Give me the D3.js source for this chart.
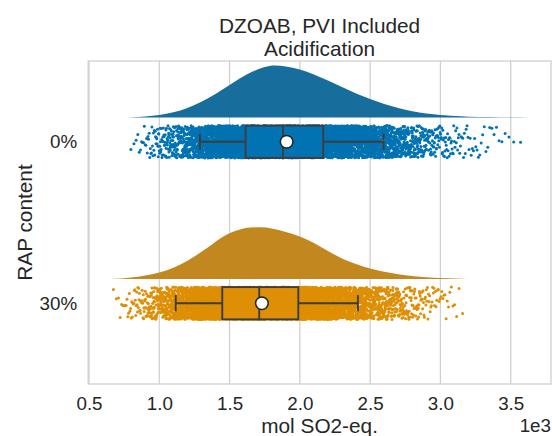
<!DOCTYPE html>
<html><head><meta charset="utf-8">
<script src="https://cdn.jsdelivr.net/npm/d3@7"></script>
<style>
body{margin:0;background:#fff}
svg{display:block;font-family:"Liberation Sans",Arial,Helvetica,sans-serif}
</style>
</head><body>
<svg id="chart" width="552" height="436"></svg>
<script>
// ---------------- data (values in mol SO2-eq.) ----------------
const categories   = ["0%", "30%"];
const titleLines   = ["DZOAB, PVI Included", "Acidification"];
const xLabel       = "mol SO2-eq.";
const yLabel       = "RAP content";
const xTicks       = [500, 1000, 1500, 2000, 2500, 3000, 3500];

const whiskerLow   = [1289, 1117];
const quartile1    = [1614, 1448];
const medians      = [1880, 1711];
const quartile3    = [2166, 1989];
const whiskerHigh  = [2596, 2413];
const means        = [1906, 1730];
const dataMin      = [768, 644];
const dataMax      = [3637, 3193];

// half-violin (KDE) profile, relative density
const densityX0 = [768, 850, 950, 1050, 1150, 1250, 1350, 1450, 1550, 1650, 1750, 1820, 1900, 2000, 2100, 2200, 2300, 2400, 2500, 2600, 2700, 2800, 2900, 3000, 3100, 3200, 3350, 3500, 3637];
const densityY0 = [0, 0.6, 1.8, 3.8, 7, 12.5, 19.5, 28, 37, 45, 50.5, 52, 51, 48, 43, 37, 30.5, 24, 18.5, 13.5, 9.5, 6.3, 4, 2.5, 1.5, 0.9, 0.45, 0.2, 0];
const densityX1 = [644, 750, 850, 950, 1050, 1150, 1250, 1350, 1450, 1550, 1650, 1720, 1800, 1900, 2000, 2100, 2200, 2300, 2400, 2500, 2600, 2700, 2800, 2900, 3000, 3100, 3193];
const densityY1 = [0, 0.8, 2.3, 4.7, 8.5, 14.5, 22.5, 32, 42, 48.5, 51.5, 51.7, 50.5, 47, 42.5, 36, 28, 20.5, 15, 10.5, 7.3, 4.8, 3, 1.8, 1, 0.5, 0];
const densityX = [densityX0, densityX1];
const densityY = [densityY0, densityY1];
const pointsPerGroup = 8000;

// ---------------- styles ----------------
const pointColors  = ["#0173b2", "#de8f05"];
const violinColors = ["#176d9c", "#c38720"];
const lineColor = "#3d3d3d";
const textColor = "#262626";
const gridColor = "#d0d0d0";

const m = {left: 88.2, right: 551, top: 61, bottom: 384};
const svg = d3.select("#chart");

const x = d3.scaleLinear()
  .domain([d3.min(dataMin) - 0.05 * (d3.max(dataMax) - d3.min(dataMin)),
           d3.max(dataMax) + 0.05 * (d3.max(dataMax) - d3.min(dataMin))])
  .range([m.left, m.right]);
const y = d3.scaleLinear().domain([-0.5, categories.length - 0.5]).range([m.top, m.bottom]);
const unit = y(1) - y(0);

// grid
svg.append("g").selectAll("line").data(xTicks).join("line")
  .attr("x1", d => x(d)).attr("x2", d => x(d))
  .attr("y1", m.top).attr("y2", m.bottom)
  .attr("stroke", gridColor).attr("stroke-width", 1.3);

// half violins
const dScale = d3.scaleLinear().domain([0, 52]).range([0, 0.322 * unit]);
categories.forEach((c, i) => {
  const base = y(i) - 0.15 * unit;
  const pts = densityX[i].map((v, k) => [v, densityY[i][k]]);
  const area = d3.area().x(d => x(d[0])).y0(base).y1(d => base - dScale(d[1])).curve(d3.curveMonotoneX);
  svg.append("path").attr("d", area(pts)).attr("fill", violinColors[i]);
});

// strip points placed at density quantiles, deterministic jitter
function quantileSample(xs, ds, n) {
  const f = d3.scaleLinear().domain(xs).range(ds);
  const M = 4000, lo = xs[0], hi = xs[xs.length - 1];
  const gx = d3.range(M + 1).map(k => lo + (hi - lo) * k / M);
  const cdf = [0];
  for (let k = 1; k <= M; k++) cdf.push(cdf[k - 1] + (f(gx[k]) + f(gx[k - 1])) / 2);
  const tot = cdf[M];
  const out = [];
  for (let j = 0; j < n; j++) {
    const q = (j + 0.5) / n * tot;
    let k = d3.bisectLeft(cdf, q);
    k = Math.max(1, Math.min(M, k));
    const t = (q - cdf[k - 1]) / (cdf[k] - cdf[k - 1] || 1);
    out.push(gx[k - 1] + t * (gx[k] - gx[k - 1]));
  }
  return out;
}
function jitter(j, i) {
  const s = Math.sin((j + 1) * 12.9898 + (i + 1) * 78.233) * 43758.5453;
  return s - Math.floor(s);
}
categories.forEach((c, i) => {
  const xs = quantileSample(densityX[i], densityY[i], pointsPerGroup);
  const g = svg.append("g").attr("fill", pointColors[i]);
  g.selectAll("circle").data(xs).join("circle")
    .attr("cx", d => x(d))
    .attr("cy", (d, j) => y(i) + (jitter(j, i) - 0.5) * 0.2 * unit)
    .attr("r", 1.5);
});

// boxes
categories.forEach((c, i) => {
  const cy = y(i), hw = 0.1 * unit, cap = 0.05 * unit;
  const g = svg.append("g").attr("stroke", lineColor).attr("stroke-width", 1.9);
  g.append("line").attr("x1", x(whiskerLow[i])).attr("x2", x(quartile1[i])).attr("y1", cy).attr("y2", cy);
  g.append("line").attr("x1", x(quartile3[i])).attr("x2", x(whiskerHigh[i])).attr("y1", cy).attr("y2", cy);
  g.append("line").attr("x1", x(whiskerLow[i])).attr("x2", x(whiskerLow[i])).attr("y1", cy - cap).attr("y2", cy + cap);
  g.append("line").attr("x1", x(whiskerHigh[i])).attr("x2", x(whiskerHigh[i])).attr("y1", cy - cap).attr("y2", cy + cap);
  g.append("rect").attr("x", x(quartile1[i])).attr("y", cy - hw)
    .attr("width", x(quartile3[i]) - x(quartile1[i])).attr("height", 2 * hw)
    .attr("fill", pointColors[i]);
  g.append("line").attr("x1", x(medians[i])).attr("x2", x(medians[i])).attr("y1", cy - hw).attr("y2", cy + hw);
  g.append("circle").attr("cx", x(means[i])).attr("cy", cy).attr("r", 6.3)
    .attr("fill", "#fff").attr("stroke", "#222").attr("stroke-width", 1.5);
});

// frame
svg.append("rect").attr("x", m.left).attr("y", m.top)
  .attr("width", m.right - m.left).attr("height", m.bottom - m.top)
  .attr("fill", "none").attr("stroke", gridColor).attr("stroke-width", 1.3);

// x tick labels via axis
const xAxis = svg.append("g").attr("transform", `translate(0,${m.bottom})`)
  .call(d3.axisBottom(x).tickValues(xTicks).tickFormat(d => d3.format(".1f")(d / 1000)).tickSize(0).tickPadding(13));
xAxis.select(".domain").remove();
xAxis.selectAll("text").attr("font-size", 18.8).attr("fill", textColor).attr("font-family", "Liberation Sans, Arial, sans-serif");

// y tick labels via axis
const yAxis = svg.append("g").attr("transform", `translate(${m.left},0)`)
  .call(d3.axisLeft(y).tickValues(categories.map((c, i) => i)).tickFormat(i => categories[i]).tickSize(0).tickPadding(11));
yAxis.select(".domain").remove();
yAxis.selectAll("text").attr("font-size", 18.8).attr("fill", textColor).attr("font-family", "Liberation Sans, Arial, sans-serif");

// labels
svg.append("text").attr("x", (m.left + m.right) / 2).attr("y", 433)
  .attr("text-anchor", "middle").attr("font-size", 20.8).attr("fill", textColor).text(xLabel);
svg.append("text").attr("x", m.right).attr("y", 432)
  .attr("text-anchor", "end").attr("font-size", 18.8).attr("fill", textColor).text("1e3");
svg.append("text").attr("transform", `translate(31.5,${(m.top + m.bottom) / 2}) rotate(-90)`)
  .attr("text-anchor", "middle").attr("font-size", 20.8).attr("fill", textColor).text(yLabel);
titleLines.forEach((t, k) => {
  svg.append("text").attr("x", (m.left + m.right) / 2).attr("y", 33 + k * 22.5)
    .attr("text-anchor", "middle").attr("font-size", 20.8).attr("fill", textColor).text(t);
});
</script>
</body></html>
